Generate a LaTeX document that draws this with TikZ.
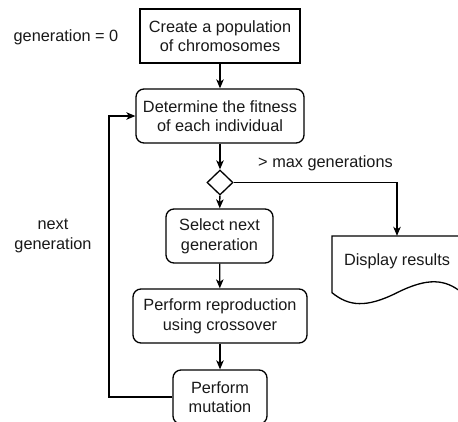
\documentclass[tikz,border=0pt]{standalone}
\usepackage{fontspec}
\setmainfont{Liberation Sans}
\usetikzlibrary{shapes.geometric,arrows.meta}
\begin{document}
\begin{tikzpicture}[x=1pt,y=-1pt,
  every node/.style={font=\fontsize{16.3}{19.6}\selectfont, text=black!90},
  box/.style={draw, line width=1.3pt, align=center, inner sep=0pt},
  rbox/.style={box, rounded corners=8pt},
  flow/.style={draw, line width=1.3pt, -{Stealth[length=9pt,width=7.5pt,inset=2.5pt]}},
  lbl/.style={align=center, inner sep=0pt}]
\useasboundingbox (0,0) rectangle (458,421);
\clip (0,0) rectangle (458,421);
\fill[white] (0,0) rectangle (458,421);

\node[box, minimum width=160pt, minimum height=54pt] (create) at (220,36) {Create a population\\of chromosomes};
\node[rbox, minimum width=168pt, minimum height=54pt] (fit) at (220,116) {Determine the fitness\\of each individual};
\node[draw, line width=1.3pt, shape=diamond, minimum width=26pt, minimum height=25pt, inner sep=0pt] (dec) at (220,182.5) {};
\node[rbox, minimum width=107pt, minimum height=54pt] (sel) at (219.5,236) {Select next\\generation};
\node[rbox, minimum width=174pt, minimum height=54pt] (rep) at (220,316) {Perform reproduction\\using crossover};
\node[rbox, minimum width=94pt, minimum height=54pt] (mut) at (220,397) {Perform\\mutation};

% Display results (document shape)
\node[minimum width=130pt, minimum height=67pt, inner sep=0pt] (disp) at (397,269.5) {};
\draw[line width=1.3pt] (332,236) -- (462,236) -- (462,292.7)
  .. controls (445.3,279.1) and (428,277.2) .. (397,292.7)
  .. controls (366,308.2) and (348.7,306.3) .. (332,292.7) -- cycle;
\node[lbl] (disptext) at (397,261) {Display results};

\node[lbl] (gen0) at (66,37) {generation = 0};
\node[lbl] (maxg) at (325.5,163) {> max generations};
\node[lbl] (nextg) at (53,236) {next\\generation};

\draw[flow] (create) -- (fit);
\draw[flow] (fit) -- (dec);
\draw[flow] (dec) -- (sel);
\draw[flow] (sel) -- (rep);
\draw[flow] (rep) -- (mut);
\draw[flow] (dec.east) -| (disp.north);
\draw[flow] (mut.west) -- (109,397) |- (fit.west);
\end{tikzpicture}
\end{document}
